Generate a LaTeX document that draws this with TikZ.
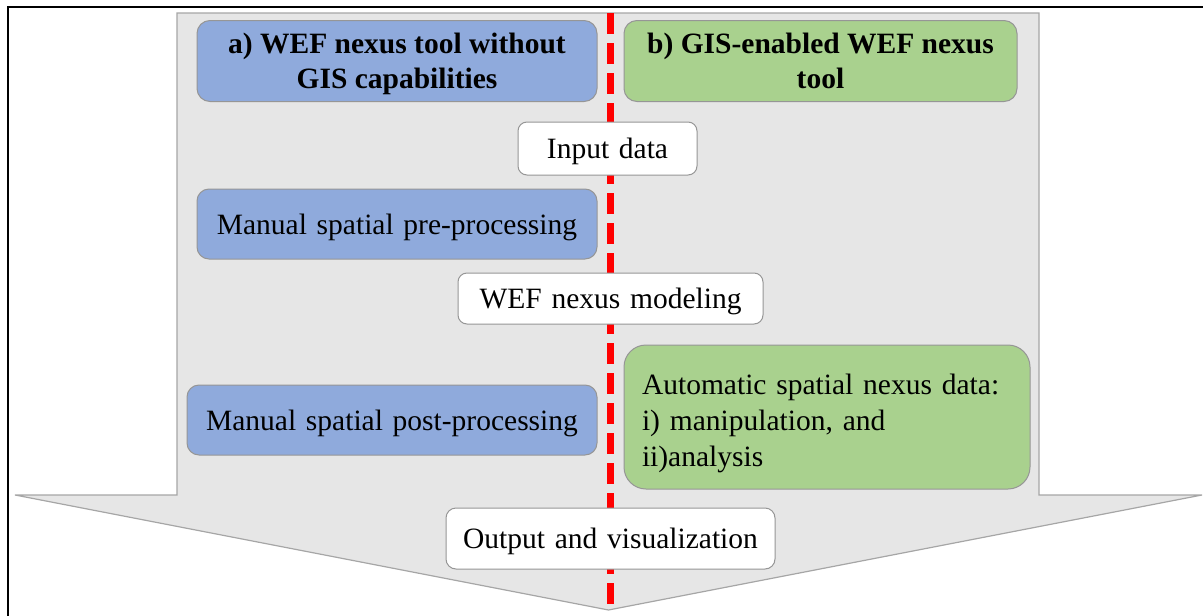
\documentclass[tikz,border=0pt]{standalone}
\usepackage{fontspec}
\setmainfont{Liberation Serif}
\newfontfamily\stepfont{Liberation Serif}
\definecolor{blockfill}{RGB}{230,230,230}
\definecolor{blockline}{RGB}{166,166,166}
\definecolor{boxline}{RGB}{150,150,150}
\definecolor{nexusblue}{RGB}{143,170,220}
\definecolor{nexusgreen}{RGB}{169,209,142}
\definecolor{divider}{RGB}{255,0,0}
\newcommand\widespaces{\spaceskip=0.33em plus 0.1em minus 0.05em\relax}
\begin{document}
\begin{tikzpicture}[x=1pt,y=-1pt,
  every node/.style={font=\stepfont\fontsize{29.5}{35}\selectfont\widespaces, text=black},
  stage/.style={draw=boxline, line width=1pt, rounded corners=#1,
    inner sep=0pt, align=center, text depth=0pt},
  stage/.default=10pt,
  toolA/.style={stage=#1, fill=nexusblue},
  toolB/.style={stage=#1, fill=nexusgreen},
  common/.style={stage=#1, fill=white},
  header/.style={font=\stepfont\bfseries\fontsize{29.5}{35}\selectfont}]
\useasboundingbox (0,0) rectangle (1203,616);

% outer frame (top and left edges)
\draw[line width=2pt] (8,616) -- (8,7) -- (1210,7);

% big workflow arrow
\draw[fill=blockfill, draw=blockline, line width=1.2pt]
  (177,13) -- (1039,13) -- (1039,495) -- (1202,495) -- (608.5,610)
  -- (15,495) -- (177,495) -- cycle;

% divider between the two kinds of tool
\coordinate (dtop) at (610,13);
\coordinate (dtip) at (610,609);
\draw[divider, line width=7pt, dash pattern=on 21pt off 9pt] (dtop) -- (dtip);

% column headers
\node[toolA=13pt, header, minimum width=400pt, minimum height=81pt] (ha) at (397,61)
  {a) WEF nexus tool without\\GIS capabilities};
\node[toolB=13pt, header, minimum width=393pt, minimum height=81pt] (hb) at (820.5,61)
  {b) GIS-enabled WEF nexus\\tool};

% workflow steps
\node[common=9pt, minimum width=179pt, minimum height=53pt] (input) at (607.5,148.5) {Input data};
\node[toolA=12pt, minimum width=400pt, minimum height=70pt] (pre) at (397,224)
  {Manual spatial pre-processing};
\node[common=9pt, minimum width=305pt, minimum height=51pt] (model) at (610.5,298.5)
  {WEF nexus modeling};
\node[toolA=12pt, minimum width=410pt, minimum height=70pt] (post) at (392,420)
  {Manual spatial post-processing};
\node[toolB=22pt, text depth={}, minimum width=406pt, minimum height=144pt, inner xsep=18pt,
  text width=370pt, align=left,
  font=\stepfont\fontsize{29.5}{36}\selectfont\widespaces] (auto) at (827,417)
  {\rule{0pt}{34pt}Automatic spatial nexus data:\\i) manipulation, and\\ii)analysis};
\node[common=10pt, minimum width=329pt, minimum height=61pt] (output) at (610.5,538.5)
  {Output and visualization};
\end{tikzpicture}
\end{document}
